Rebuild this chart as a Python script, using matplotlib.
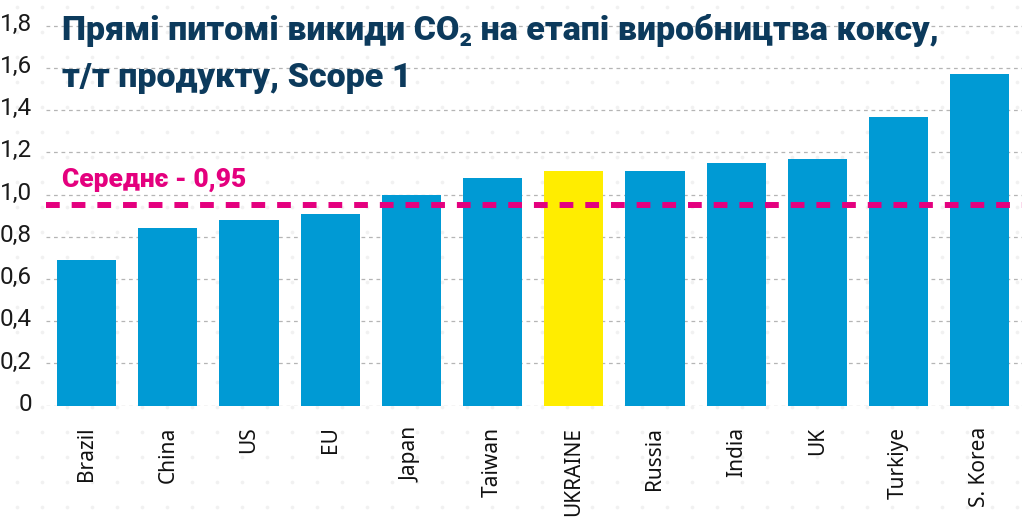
import matplotlib
matplotlib.use("Agg")
import matplotlib.pyplot as plt
from matplotlib.transforms import ScaledTranslation
import numpy as np

# ---- data ----
categories = ["Brazil", "China", "US", "EU", "Japan", "Taiwan", "UKRAINE",
              "Russia", "India", "UK", "Turkiye", "S. Korea"]
values = [0.69, 0.84, 0.88, 0.91, 1.00, 1.08, 1.11, 1.11, 1.15, 1.17, 1.37, 1.57]
highlight = "UKRAINE"
mean_value = 0.95
mean_label = "Середнє - 0,95"
title_line1 = "Прямі питомі викиди CO₂ на етапі виробництва коксу,"
title_line2 = "т/т продукту, Scope 1"
yticks = [0, 0.2, 0.4, 0.6, 0.8, 1.0, 1.2, 1.4, 1.6, 1.8]
ytick_labels = ["0", "0,2", "0,4", "0,6", "0,8", "1,0", "1,2", "1,4", "1,6", "1,8"]

BLUE = "#009ad4"
YELLOW = "#ffed00"
NAVY = "#0c3a5c"
MAGENTA = "#e4007e"

narrow = ["Roboto", "DejaVu Sans"]
label_font = ["Noto Sans", "DejaVu Sans"]

W, H = 1022, 524
fig = plt.figure(figsize=(W / 100, H / 100), dpi=100)
fig.patch.set_facecolor("white")

# faint background dot grid
bg = fig.add_axes([0, 0, 1, 1], zorder=-5)
bg.set_xlim(0, W)
bg.set_ylim(H, 0)
bg.axis("off")
gx, gy = np.meshgrid(np.arange(17, W, 25), np.arange(7, H, 25))
bg.scatter(gx.ravel(), gy.ravel(), s=7, color="#f1f1f1", linewidths=0)

# main axes: left edge x=46px, baseline y=405.7px, top at figure top
x0 = 46 / W
y0 = 1 - 405.7 / H
ax = fig.add_axes([x0, y0, 1 - x0, 1 - y0])
ax.patch.set_alpha(0)

x = np.arange(len(categories))
colors = [YELLOW if c == highlight else BLUE for c in categories]
ax.bar(x, values, width=0.73, color=colors, zorder=3)

ax.set_xlim(-0.5, 11.52)
ax.set_ylim(0, 1.922)

for yv in yticks:
    ax.axhline(yv, color="#b5b5b5", lw=0.9, ls=(0, (3, 3)), zorder=1)

ax.axhline(mean_value, color=MAGENTA, lw=4.3, ls=(0, (2.3, 2.0)), zorder=4)
ax.text(62 / W, 1 - 180 / H, mean_label, transform=fig.transFigure,
        color=MAGENTA, fontsize=19, fontweight="heavy", family=narrow,
        ha="left", va="center")

ax.set_yticks(yticks)
ax.set_yticklabels(ytick_labels, family=narrow, fontsize=17.5, color="#1a1a1a")
ax.set_xticks(x)
ax.set_xticklabels(categories, rotation=90, family=label_font, fontsize=15,
                   color="#111111")
ax.tick_params(axis="both", length=0)
ax.tick_params(axis="y", pad=10)
ax.tick_params(axis="x", pad=15)
for lab in ax.get_yticklabels():
    lab.set_transform(lab.get_transform() + ScaledTranslation(0, 4 / 100, fig.dpi_scale_trans))
for s in ax.spines.values():
    s.set_visible(False)

fig.text(62 / W, 1 - 40 / H, title_line1, color=NAVY, fontsize=24.5,
         fontweight="heavy", family=narrow, ha="left", va="baseline")
fig.text(62 / W, 1 - 87 / H, title_line2, color=NAVY, fontsize=24.5,
         fontweight="heavy", family=narrow, ha="left", va="baseline")

fig.savefig("out.png", dpi=100, facecolor="white")
